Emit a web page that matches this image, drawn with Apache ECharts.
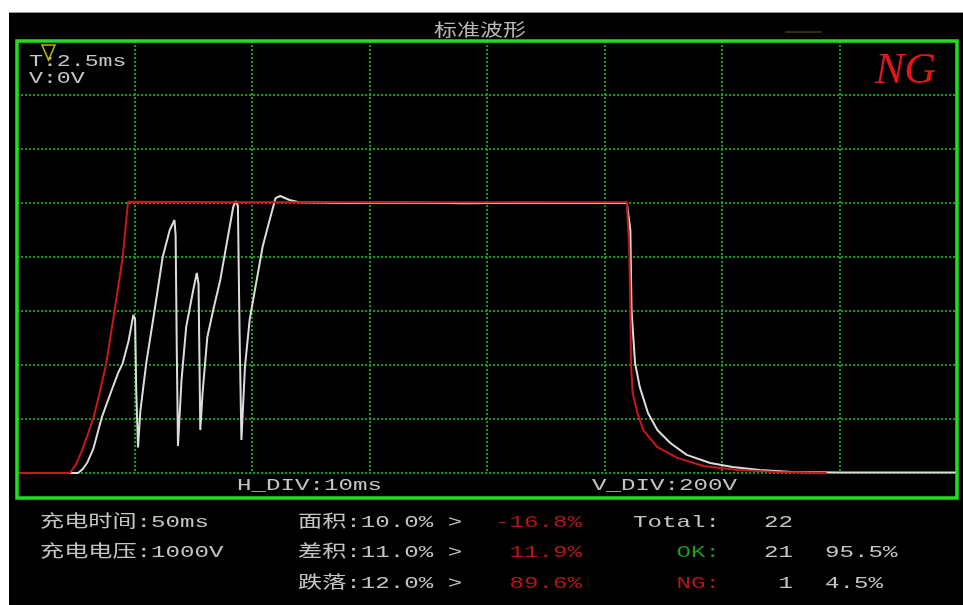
<!DOCTYPE html>
<html><head><meta charset="utf-8">
<script src="https://cdn.jsdelivr.net/npm/echarts@6/dist/echarts.min.js"></script>
<style>html,body{margin:0;padding:0;background:#fff;}#c{width:963px;height:605px;}</style>
</head><body><div id="c"></div>
<script>
// ---- data (time in ms, voltage in V) ----
const stdTime = [0, 4.5, 5.0, 5.5, 6.0, 6.5, 7.0, 7.6, 8.3, 9.0, 9.45, 20, 35, 51.9, 52.1, 52.2, 52.25, 52.4, 52.8, 53.3, 54.5, 56.2, 58.4, 61.3, 64.7, 68.9];
const stdVolt = [0, 0, 30, 80, 140, 204, 290, 407, 600, 800, 1005, 1003, 1003, 1003, 837, 615, 407, 296, 222, 159, 96, 56, 26, 11, 4, 0];
const measTime = [0, 5.2, 5.6, 6.0, 6.5, 7.2, 8.0, 8.6, 9.0, 9.5, 9.9, 10.05, 10.15, 10.3, 10.5, 11.0, 11.7, 12.4, 13.0, 13.4, 13.5, 13.6, 13.7, 14.0, 14.4, 15.0, 15.3, 15.45, 15.6, 15.8, 16.2, 16.7, 17.3, 17.9, 18.4, 18.6, 18.8, 18.95, 19.1, 19.4, 19.8, 20.4, 20.9, 21.5, 22.0, 22.4, 23.2, 24.0, 28, 33, 38, 43, 48, 51.9, 52.0, 52.2, 52.3, 52.6, 53.0, 53.7, 54.5, 55.6, 57.0, 59.0, 60.9, 63.2, 66.0, 70, 80];
const measVolt = [0, 0, 15, 40, 90, 204, 300, 370, 407, 490, 585, 570, 300, 95, 230, 407, 600, 800, 900, 937, 880, 450, 100, 344, 541, 678, 741, 700, 159, 300, 504, 604, 715, 863, 985, 1007, 990, 500, 122, 393, 567, 715, 837, 937, 1018, 1026, 1011, 1003, 1000, 1002, 999, 1001, 1000, 1000, 995, 900, 604, 407, 319, 222, 159, 111, 67, 37, 22, 11, 4, 2, 2];

const xDivMs = 10, xDivs = 8;
const yDivV = 200, yDivs = 8;
const titleText = '标准波形';
const statusText = 'NG';
const triggerLabels = ['T:2.5ms', 'V:0V'];
const divLabels = ['H_DIV:10ms', 'V_DIV:200V'];
const paramLabels = ['充电时间:50ms', '充电电压:1000V'];
const limitLabels = ['面积:10.0% >', '差积:11.0% >', '跌落:12.0% >'];
const measuredPct = ['-16.8%', '11.9%', '89.6%'];
const countLabels = ['Total:', 'OK:', 'NG:'];
const counts = ['22', '21', '1'];
const ratios = ['', '95.5%', '4.5%'];

// ---- build ----
const zip = (a, b) => a.map((v, i) => [v, b[i]]);
const FONT = '"Liberation Mono","Noto Sans CJK SC",monospace';
const GRAY = '#c4c4c4', RED = '#b3161a', GREEN = '#1f9a1f';

function txt(x, y, text, fill, align, size, sx) {
  return {
    type: 'text', x: x, y: y, scaleX: sx || 1.42, z: 100,
    style: { text: text, fill: fill, font: (size || 17) + 'px ' + FONT,
             textAlign: align || 'left', textVerticalAlign: 'middle' }
  };
}

const rowY = [522, 552, 583];
const els = [];
els.push({ type: 'rect', z: 200, shape: { x: 0, y: 0, width: 963, height: 12 }, style: { fill: '#fff' } });
els.push({ type: 'rect', z: 200, shape: { x: 0, y: 0, width: 9, height: 605 }, style: { fill: '#fff' } });
els.push({ type: 'line', z: 200, shape: { x1: 9, y1: 12.5, x2: 963, y2: 12.5 }, style: { stroke: '#999', lineWidth: 1 } });
els.push({ type: 'rect', z: 90, shape: { x: 17, y: 41, width: 940, height: 457 }, style: { fill: 'transparent', stroke: '#1fe01f', lineWidth: 3.5 } });
els.push({ type: 'line', z: 90, shape: { x1: 785, y1: 32, x2: 822, y2: 32 }, style: { stroke: '#555', lineWidth: 1 } });
els.push({ type: 'text', x: 480, y: 30, scaleX: 1.35, z: 100, style: { text: titleText, fill: '#b8b8b8', font: '17px "Noto Sans CJK SC"', textAlign: 'center', textVerticalAlign: 'middle' } });
els.push({ type: 'text', x: 936, y: 71, z: 100, style: { text: statusText, fill: '#e3141a', font: 'italic 44px "Liberation Serif"', textAlign: 'right', textVerticalAlign: 'middle' } });
els.push({ type: 'polygon', z: 101, shape: { points: [[42, 45], [55, 45], [48.5, 60]] }, style: { fill: 'transparent', stroke: '#c8b400', lineWidth: 1.5 } });
els.push(txt(29, 62, triggerLabels[0], GRAY, 'left', 16, 1.45));
els.push(txt(29, 79, triggerLabels[1], GRAY, 'left', 16, 1.45));
els.push(txt(237, 485, divLabels[0], GRAY));
els.push(txt(592, 485, divLabels[1], GRAY));
paramLabels.forEach((t, i) => els.push(txt(40, rowY[i], t, GRAY)));
limitLabels.forEach((t, i) => els.push(txt(298, rowY[i], t, GRAY)));
measuredPct.forEach((t, i) => els.push(txt(582, rowY[i], t, RED, 'right')));
els.push(txt(633, rowY[0], countLabels[0], GRAY));
els.push(txt(720, rowY[1], countLabels[1], GREEN, 'right'));
els.push(txt(720, rowY[2], countLabels[2], RED, 'right'));
counts.forEach((t, i) => els.push(txt(793, rowY[i], t, GRAY, 'right')));
ratios.forEach((t, i) => { if (t) els.push(txt(825, rowY[i], t, GRAY)); });

const gridLine = () => ({ show: true, lineStyle: { color: '#159a15', type: [2, 2], width: 2, opacity: 1 } });
const chart = echarts.init(document.getElementById('c'), null, { renderer: 'canvas' });
chart.setOption({
  animation: false,
  backgroundColor: '#000',
  grid: { left: 17, top: 41, width: 940, height: 432 },
  xAxis: { type: 'value', min: 0, max: xDivMs * xDivs, interval: xDivMs,
           axisLine: { show: false }, axisTick: { show: false }, axisLabel: { show: false }, splitLine: gridLine() },
  yAxis: { type: 'value', min: 0, max: yDivV * yDivs, interval: yDivV,
           axisLine: { show: false }, axisTick: { show: false }, axisLabel: { show: false }, splitLine: gridLine() },
  series: [
    { name: '实测波形', type: 'line', data: zip(measTime, measVolt), showSymbol: false, symbol: 'none',
      lineStyle: { color: '#dcdcdc', width: 2 }, z: 3 },
    { name: '标准波形', type: 'line', data: zip(stdTime, stdVolt), showSymbol: false, symbol: 'none',
      lineStyle: { color: '#c81818', width: 2 }, z: 4 }
  ],
  graphic: { elements: els }
});
</script></body></html>
